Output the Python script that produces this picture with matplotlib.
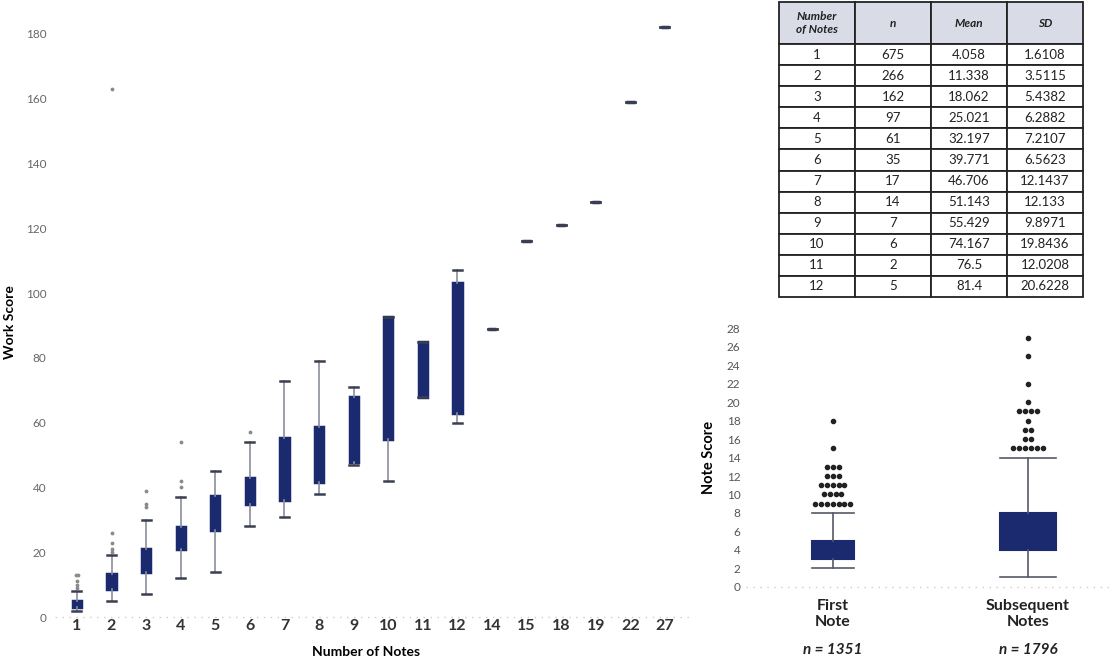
import matplotlib
matplotlib.use('Agg')
import matplotlib.pyplot as plt
import numpy as np
from collections import Counter

plt.rcParams['font.family'] = ['Lato', 'DejaVu Sans']

NAVY = '#1b2a6e'

# left chart: work score by number of notes
note_counts = ['1', '2', '3', '4', '5', '6', '7', '8', '9', '10', '11', '12',
               '14', '15', '18', '19', '22', '27']
q1 = [3, 8.5, 14, 21, 27, 35, 36, 41.7, 48, 55, 68, 63, 89, 116, 121, 128, 159, 182]
q3 = [5, 13.3, 21, 27.8, 37.3, 43, 55.2, 58.7, 68, 92.5, 85, 103, 89, 116, 121, 128, 159, 182]
med = [4, 11, 17, 24, 32, 39, 45, 50, 55, 70, 76.5, 80, 89, 116, 121, 128, 159, 182]
whislo = [2, 5, 7, 12, 14, 28, 31, 38, 47, 42, 68, 60, 89, 116, 121, 128, 159, 182]
whishi = [8, 19, 30, 37, 45, 54, 73, 79, 71, 92.5, 85, 107, 89, 116, 121, 128, 159, 182]
fliers = [[9, 10, 11, 13, 13], [20, 21, 23, 26, 163], [34, 35, 39], [40, 42, 54], [], [57],
          [], [], [], [], [], [], [], [], [], [], [], []]

# table
tbl_notes = ['1', '2', '3', '4', '5', '6', '7', '8', '9', '10', '11', '12']
tbl_n = ['675', '266', '162', '97', '61', '35', '17', '14', '7', '6', '2', '5']
tbl_mean = ['4.058', '11.338', '18.062', '25.021', '32.197', '39.771', '46.706',
            '51.143', '55.429', '74.167', '76.5', '81.4']
tbl_sd = ['1.6108', '3.5115', '5.4382', '6.2882', '7.2107', '6.5623', '12.1437',
          '12.133', '9.8971', '19.8436', '12.0208', '20.6228']

# right chart: note score
groups = ['First\nNote', 'Subsequent\nNotes']
group_n = ['n = 1351', 'n = 1796']
g_q1 = [3, 4]
g_q3 = [5, 8]
g_med = [4, 6]
g_lo = [2, 1.1]
g_hi = [8, 14]
g_fliers = [[9] * 7 + [10] * 4 + [11] * 5 + [12] * 3 + [13] * 3 + [15, 18],
            [15] * 6 + [16] * 2 + [17] * 2 + [18, 19, 19, 19, 19, 20, 22, 25, 27]]


def spread(vals, step):
    # put repeated values side by side
    xs, ys = [], []
    for v, c in Counter(vals).items():
        for i in range(c):
            xs.append((i - (c - 1) / 2) * step)
            ys.append(v)
    return np.array(xs), np.array(ys)


fig = plt.figure(figsize=(11.1, 6.6), dpi=100)

# ---- left box plot
ax = fig.add_axes([0.0495, 0.053, 0.572, 0.9167])
stats = []
for i in range(len(note_counts)):
    stats.append(dict(q1=q1[i], q3=q3[i], med=med[i], whislo=whislo[i],
                      whishi=whishi[i], fliers=[]))
pos = np.arange(1, len(note_counts) + 1)
ax.bxp(stats, positions=pos, widths=0.24, patch_artist=True, showfliers=False,
       boxprops=dict(facecolor=NAVY, edgecolor=NAVY, linewidth=2.5),
       medianprops=dict(color=NAVY, linewidth=0),
       whiskerprops=dict(color='#8a8f9e', linewidth=1.2),
       capprops=dict(color='#3a3f50', linewidth=1.8), capwidths=0.26)
for p, fl in zip(pos, fliers):
    if fl:
        dx, fy = spread(fl, 0.07)
        ax.scatter(p + dx, fy, s=3, color='#8a8a8a', zorder=3)
ax.set_xlim(0.364, 18.72)
ax.set_ylim(-2.47, 184.3)
ax.set_xticks(pos)
ax.set_xticklabels(note_counts, fontsize=11.5, color='#333333', fontweight='bold')
ax.set_yticks(np.arange(0, 181, 20))
ax.tick_params(axis='y', labelsize=8.5, labelcolor='#666666', length=0, pad=6)
ax.tick_params(axis='x', length=0, pad=-4)
for s in ax.spines.values():
    s.set_visible(False)
ax.axhline(0, color='#cccccc', linewidth=1, linestyle=(0, (1, 4)), zorder=0)
ax.set_xlabel('Number of Notes', fontsize=10, fontweight='bold')
ax.xaxis.set_label_coords(0.49, -0.035)
ax.set_ylabel('Work Score', fontsize=10, fontweight='bold')
ax.yaxis.set_label_coords(-0.062, 0.5)

# ---- table
tax = fig.add_axes([0.7018, 0.55, 0.2739, 0.447])
tax.axis('off')
cells = [list(r) for r in zip(tbl_notes, tbl_n, tbl_mean, tbl_sd)]
tb = tax.table(cellText=cells, colLabels=['Number\nof Notes', 'n', 'Mean', 'SD'],
               cellLoc='center', bbox=[0, 0, 1, 1])
tb.auto_set_font_size(False)
nrows = len(cells) + 1
for (r, c), cell in tb.get_celld().items():
    cell.set_linewidth(1.3)
    cell.set_edgecolor('#222222')
    cell.get_text().set_fontsize(9.5)
    cell.get_text().set_color('#222222')
    if r == 0:
        cell.set_facecolor('#d9dbe6')
        cell.get_text().set_fontstyle('italic')
        cell.get_text().set_fontweight('bold')
        cell.get_text().set_fontsize(8.5)
        cell.set_height(2.0 / (nrows + 1))
    else:
        cell.set_height(1.0 / (nrows + 1))

# ---- right box plot
bx = fig.add_axes([0.672, 0.103, 0.328, 0.409])
gstats = []
for i in range(len(groups)):
    gstats.append(dict(q1=g_q1[i], q3=g_q3[i], med=g_med[i], whislo=g_lo[i],
                       whishi=g_hi[i], fliers=[]))
gpos = [1, 2]
gw = [0.215, 0.287]
bx.bxp(gstats, positions=gpos, widths=gw, patch_artist=True, showfliers=False,
       boxprops=dict(facecolor=NAVY, edgecolor=NAVY, linewidth=1.5),
       medianprops=dict(color=NAVY, linewidth=0),
       whiskerprops=dict(color='#555a6a', linewidth=1.2),
       capprops=dict(color='#555a6a', linewidth=1.2), capwidths=gw)
for p, fl in zip(gpos, g_fliers):
    dx, fy = spread(fl, 0.03)
    bx.scatter(p + dx, fy, s=9, color='#222222', zorder=3)
bx.set_xlim(0.556, 2.42)
bx.set_ylim(-0.57, 28.68)
bx.set_yticks(np.arange(0, 29, 2))
bx.tick_params(axis='y', labelsize=8.5, labelcolor='#555555', length=0, pad=4)
bx.set_xticks(gpos)
bx.set_xticklabels(groups, fontsize=11.5, fontweight='bold', color='#222222')
bx.tick_params(axis='x', length=0, pad=5)
for s in bx.spines.values():
    s.set_visible(False)
bx.axhline(0, color='#cccccc', linewidth=1, linestyle=(0, (1, 4)), zorder=0)
for p, t in zip(gpos, group_n):
    bx.text(p, -0.213, t, transform=bx.get_xaxis_transform(), ha='center', va='center',
            fontsize=11, fontweight='bold', fontstyle='italic', color='#222222')
bx.set_ylabel('Note Score', fontsize=10.5, fontweight='bold', labelpad=8)

fig.savefig('out.png', dpi=100)
